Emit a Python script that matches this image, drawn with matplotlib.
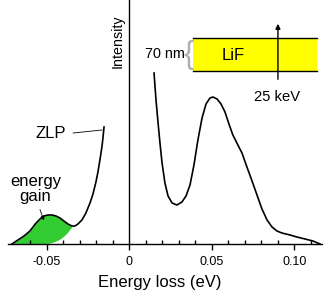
import matplotlib
matplotlib.use("Agg")
import matplotlib.pyplot as plt
from matplotlib.patches import Rectangle

plt.rcParams['font.family'] = ['Liberation Sans', 'DejaVu Sans']

# ZLP / energy-gain side
gain_x = [-0.0711, -0.0675, -0.0638, -0.0602, -0.0565, -0.0541, -0.0517, -0.0493,
          -0.0468, -0.0444, -0.0420, -0.0396, -0.0372, -0.0347, -0.0329, -0.0311,
          -0.0287, -0.0263, -0.0238, -0.0220, -0.0202, -0.0190, -0.0178, -0.0165,
          -0.0159, -0.0153]
gain_y = [0, 4, 8, 13, 21, 25, 28, 29, 29, 28, 26, 23, 20, 18, 18, 20, 24, 31, 41,
          50, 62, 72, 84, 98, 107, 117]
# ZLP tail under the energy-gain peak (lower boundary of the green area)
tail_y = [0, 0, 0, 0, 0, 0, 0, 0.5, 1.5, 3, 5, 8, 12, 17.5]

# energy-loss side
loss_x = [0.0150, 0.0162, 0.0174, 0.0186, 0.0198, 0.0216, 0.0235, 0.0259, 0.0289,
          0.0319, 0.0344, 0.0368, 0.0392, 0.0416, 0.0441, 0.0465, 0.0489, 0.0507,
          0.0532, 0.0556, 0.0580, 0.0604, 0.0628, 0.0652, 0.0683, 0.0713, 0.0744,
          0.0774, 0.0804, 0.0835, 0.0865, 0.0895, 0.0925, 0.0974, 0.1016, 0.1065,
          0.1113, 0.1156]
loss_y = [171, 144, 122, 101, 82, 61, 48, 41, 39, 42, 48, 59, 79, 104, 126, 140,
          146, 147, 145, 140, 132, 120, 109, 101, 91, 77, 63, 49, 35, 24, 17, 13,
          11, 9, 7, 5, 3, 0]

major_ticks = [-0.05, 0.0, 0.05, 0.10]
major_labels = ['-0.05', '0', '0.05', '0.10']
minor_ticks = [-0.06, -0.04, -0.03, -0.02, -0.01, 0.01, 0.02, 0.03, 0.04,
               0.06, 0.07, 0.08, 0.09, 0.11]

fig = plt.figure(figsize=(3.27, 2.9), dpi=100)
ax = fig.add_axes([8 / 327, 46 / 290, 314 / 327, 244 / 290])
ax.set_xlim(-0.0735, 0.1168)
ax.set_ylim(0, 244)

n = len(tail_y)
ax.fill_between(gain_x[:n], tail_y, gain_y[:n], color='#33cc33', lw=0, zorder=1)
ax.plot(gain_x, gain_y, color='black', lw=1.2, zorder=3)
ax.plot(loss_x, loss_y, color='black', lw=1.2, zorder=3)

for s in ['left', 'top', 'right']:
    ax.spines[s].set_visible(False)
ax.spines['bottom'].set_linewidth(1.0)
ax.axvline(0, color='black', lw=1.0, zorder=2)

ax.set_xticks(major_ticks)
ax.set_xticklabels(major_labels, fontsize=9)
ax.set_xticks(minor_ticks, minor=True)
ax.tick_params(axis='x', which='major', direction='out', length=4.5, width=1.0, pad=4)
ax.tick_params(axis='x', which='minor', direction='in', length=3, width=1.0)
ax.set_yticks([])
fig.text(160 / 327, 1 - 287 / 290, 'Energy loss (eV)', ha='center', va='baseline',
         fontsize=12)

ax.text(-0.0068, 203, 'Intensity', rotation=90, ha='center', va='center', fontsize=10.3)

# ZLP label
ax.text(-0.0478, 110, 'ZLP', ha='center', va='center', fontsize=12)
ax.plot([-0.0340, -0.0165], [111, 114], color='black', lw=0.6)

# energy gain label
ax.text(-0.0568, 55, 'energy\ngain', ha='center', va='center', fontsize=12,
        linespacing=1.0)
ax.annotate('', xy=(-0.0511, 21), xytext=(-0.0547, 37),
            arrowprops=dict(arrowstyle='-|>', color='black', lw=0.6,
                            mutation_scale=6))

# inset: LiF film
ax.add_patch(Rectangle((0.0386, 173), 0.0751, 33, facecolor='#ffff00',
                       edgecolor='none', zorder=4))
ax.plot([0.0386, 0.1137], [206, 206], color='black', lw=1.0, zorder=5)
ax.plot([0.0386, 0.1137], [173, 173], color='black', lw=1.0, zorder=5)
ax.text(0.0628, 189, 'LiF', ha='center', va='center', fontsize=12, zorder=6)
ax.text(0.0392, 189.5, '{', ha='right', va='center', fontsize=22, color='#b0b0b0',
        fontweight='light', zorder=6)
ax.text(0.0336, 190, '70 nm', ha='right', va='center', fontsize=10.4, zorder=6)
ax.annotate('', xy=(0.0901, 223), xytext=(0.0901, 162),
            arrowprops=dict(arrowstyle='-|>', color='black', lw=1.0,
                            mutation_scale=7), zorder=7)
ax.text(0.0895, 147, '25 keV', ha='center', va='center', fontsize=10.6)

fig.savefig('out.png', dpi=100)
